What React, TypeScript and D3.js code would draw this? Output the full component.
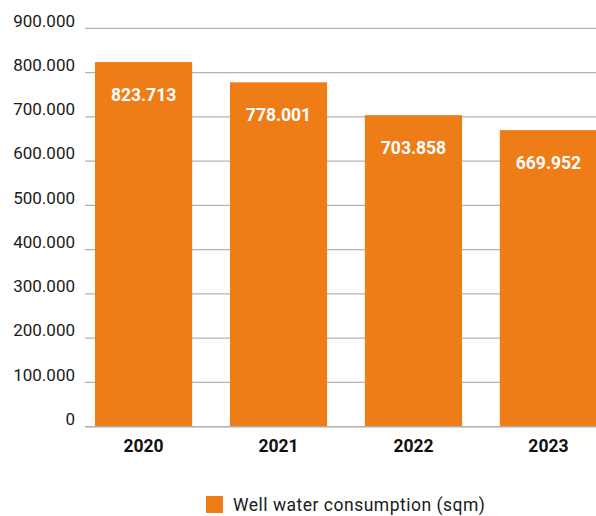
import * as d3 from "d3";
import { useEffect, useRef } from "react";

const years = ["2020", "2021", "2022", "2023"];
const consumption = [823713, 778001, 703858, 669952];
const valueLabels = ["823.713", "778.001", "703.858", "669.952"];
const yTicks = [0, 100000, 200000, 300000, 400000, 500000, 600000, 700000, 800000, 900000];
const legendLabel = "Well water consumption (sqm)";

const width = 596;
const height = 516;
const orange = "#ef7d17";

const fmt = (v: number) => (v === 0 ? "0" : d3.format(",.0f")(v / 1000).replace(",", ".") + ".000");

export default function App() {
    const ref = useRef<SVGSVGElement | null>(null);

    useEffect(() => {
        const svg = d3.select(ref.current);
        svg.selectAll("*").remove();

        const x = d3
            .scaleBand<string>()
            .domain(years)
            .range([85, 607])
            .paddingInner(0.28)
            .paddingOuter(0.074);
        const y = d3.scaleLinear().domain([0, 900000]).range([426.7, 28.3]);

        // gridlines
        svg.append("g")
            .selectAll("line")
            .data(yTicks)
            .join("line")
            .attr("x1", 85)
            .attr("x2", width)
            .attr("y1", (d) => y(d))
            .attr("y2", (d) => y(d))
            .attr("stroke", "#b3b3b3")
            .attr("stroke-width", 1.2);

        svg.append("g")
            .selectAll("text")
            .data(yTicks)
            .join("text")
            .attr("x", 75)
            .attr("y", (d) => y(d))
            .attr("dy", "-0.1em")
            .attr("text-anchor", "end")
            .attr("font-family", "Roboto")
            .attr("font-size", 17)
            .attr("fill", "#1a1a1a")
            .text((d) => fmt(d));

        // bars
        svg.append("g")
            .selectAll("rect")
            .data(consumption)
            .join("rect")
            .attr("x", (_, i) => x(years[i]) ?? 0)
            .attr("y", (d) => y(d))
            .attr("width", x.bandwidth())
            .attr("height", (d) => y(0) - y(d))
            .attr("fill", orange);

        svg.append("g")
            .selectAll("text")
            .data(consumption)
            .join("text")
            .attr("x", (_, i) => (x(years[i]) ?? 0) + x.bandwidth() / 2)
            .attr("y", (d) => y(d) + 39)
            .attr("text-anchor", "middle")
            .attr("font-family", "Roboto")
            .attr("font-weight", "bold")
            .attr("font-size", 17.5)
            .attr("fill", "#fff")
            .text((_, i) => valueLabels[i]);

        // baseline
        svg.append("line")
            .attr("x1", 85)
            .attr("x2", width)
            .attr("y1", y(0))
            .attr("y2", y(0))
            .attr("stroke", "#b3b3b3")
            .attr("stroke-width", 1.5);

        svg.append("g")
            .selectAll("text")
            .data(years)
            .join("text")
            .attr("x", (d) => (x(d) ?? 0) + x.bandwidth() / 2)
            .attr("y", 452)
            .attr("text-anchor", "middle")
            .attr("font-family", "Roboto")
            .attr("font-weight", "bold")
            .attr("font-size", 17.5)
            .attr("fill", "#111")
            .text((d) => d);

        // legend
        const lg = svg.append("g").attr("transform", "translate(206,496)");
        lg.append("rect").attr("width", 17).attr("height", 17).attr("fill", orange);
        lg.append("text")
            .attr("x", 27)
            .attr("y", 14.5)
            .attr("font-family", "Roboto")
            .attr("font-size", 17.5)
            .attr("letter-spacing", 0.5)
            .attr("fill", "#1a1a1a")
            .text(legendLabel);
    }, []);

    return (
        <svg
            ref={ref}
            width={width}
            height={height}
            style={{ position: "absolute", left: 0, top: 0, background: "#fff" }}
        />
    );
}
